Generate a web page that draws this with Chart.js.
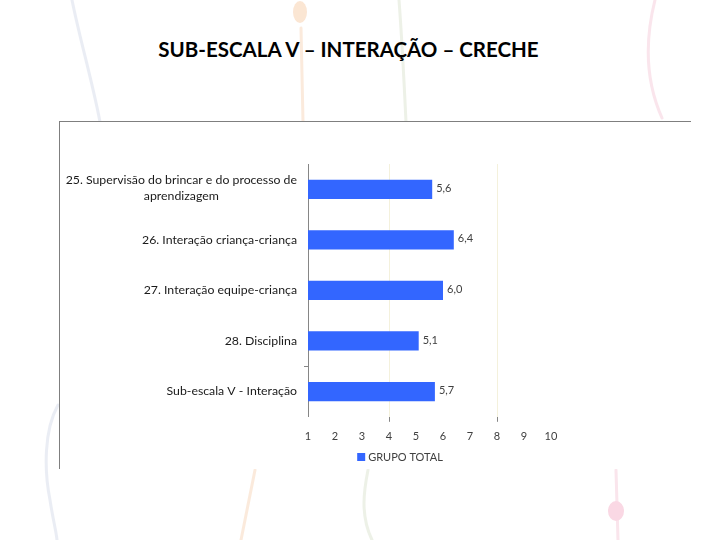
<!DOCTYPE html>
<html>
<head>
<meta charset="utf-8">
<script src="https://cdn.jsdelivr.net/npm/chart.js@4/dist/chart.umd.min.js"></script>
<style>
  body { margin: 0; width: 720px; height: 540px; background: #fff; position: relative; overflow: hidden; font-family: Lato, "Liberation Sans", sans-serif; }
  #deco { position: absolute; left: 0; top: 0; opacity: 0.8; }
  #title { position: absolute; left: 0; width: 697px; top: 37px; text-align: center; font: bold 20.5px Lato, "Liberation Sans", sans-serif; color: #000; }
  #box { position: absolute; left: 59px; top: 121px; width: 660px; height: 347px; background: #fff;
         border-top: 1px solid #7f7f7f; border-left: 1px solid #7f7f7f; }
  #box::after { content: ""; position: absolute; left: 631px; top: -1px; width: 40px; height: 2px; background: #fff; }
  #chartWrap { position: absolute; left: 0; top: 0; width: 631px; height: 347px; }
</style>
</head>
<body>
<svg id="deco" width="720" height="540">
  <g fill="none" stroke-width="3" stroke-linecap="round">
    <path d="M72 0 C80 40 92 80 100 122" stroke="#e6e9f2"/>
    <path d="M58 405 C44 430 44 470 50 500 C53 520 56 530 57 540" stroke="#e6e9f2"/>
    <path d="M301 28 L303 122" stroke="#fbe6d4"/>
    <path d="M255 470 L241 540" stroke="#fbe6d4"/>
    <path d="M399 0 C402 40 404 80 406 122" stroke="#e9eee2"/>
    <path d="M368 470 C364 490 360 515 372 540" stroke="#e9eee2"/>
    <path d="M655 0 C645 40 645 80 662 118" stroke="#f9dfe8"/>
    <path d="M616 470 L618 540" stroke="#f9dfe8"/>
  </g>
  <ellipse cx="300" cy="12" rx="7" ry="11" fill="#fbe0c9"/>
  <ellipse cx="616" cy="511" rx="8" ry="10" fill="#f9cfde"/>
</svg>
<div id="title">SUB-ESCALA V – INTERAÇÃO – CRECHE</div>
<div id="box"><div id="chartWrap"><canvas id="chart"></canvas></div></div>
<script>
// dados do gráfico
const categories = [
  ["25. Supervisão do brincar e do processo de", "aprendizagem"],
  "26. Interação criança-criança",
  "27. Interação equipe-criança",
  "28. Disciplina",
  "Sub-escala V - Interação"
];
const values = [5.6, 6.4, 6.0, 5.1, 5.7];
const seriesName = "GRUPO TOTAL";
const xMin = 1, xMax = 10;
const barColor = "#3366ff";
const fontFamily = "Lato, 'Liberation Sans', sans-serif";

// rótulos das categorias, valores e legenda desenhados à mão
const extraText = {
  id: "extraText",
  afterDraw(chart) {
    const ctx = chart.ctx;
    const y = chart.scales.y;
    const area = chart.chartArea;
    ctx.save();
    ctx.fillStyle = "#1a1a1a";
    ctx.font = "12.3px " + fontFamily;
    ctx.textBaseline = "middle";
    const right = area.left - 11;
    categories.forEach((cat, i) => {
      const cy = y.getPixelForTick(i);
      if (Array.isArray(cat)) {
        const w = ctx.measureText(cat[0]).width;
        const lh = 16;
        const top = cy - lh * (cat.length - 1) / 2 - 1;
        cat.forEach((line, j) => {
          ctx.textAlign = "center";
          ctx.fillText(line, right - w / 2, top + j * lh);
        });
      } else {
        ctx.textAlign = "right";
        ctx.fillText(cat, right, cy);
      }
    });

    // valores
    const meta = chart.getDatasetMeta(0);
    ctx.font = "11px " + fontFamily;
    ctx.fillStyle = "#404040";
    ctx.textAlign = "left";
    meta.data.forEach((bar, i) => {
      ctx.fillText(values[i].toFixed(1).replace(".", ","), bar.x + 4, bar.y - 1);
    });

    // legenda
    ctx.font = "11px " + fontFamily;
    const tw = ctx.measureText(seriesName).width;
    const total = 8 + 3 + tw;
    const lx = 340 - total / 2;
    const ly = 335;
    ctx.fillStyle = barColor;
    ctx.fillRect(lx, ly - 4, 8, 8);
    ctx.fillStyle = "#404040";
    ctx.fillText(seriesName, lx + 11, ly);
    ctx.restore();
  }
};

new Chart(document.getElementById("chart"), {
  type: "bar",
  data: {
    labels: categories,
    datasets: [{
      label: seriesName,
      data: values,
      backgroundColor: barColor,
      borderWidth: 0,
      barPercentage: 0.38,
      categoryPercentage: 1
    }]
  },
  options: {
    indexAxis: "y",
    responsive: true,
    maintainAspectRatio: false,
    animation: false,
    layout: { padding: { top: 42, right: 140, bottom: 18, left: 0 } },
    plugins: {
      legend: { display: false },
      tooltip: { enabled: false }
    },
    scales: {
      x: {
        min: xMin,
        max: xMax,
        ticks: {
          stepSize: 1,
          color: "#404040",
          font: { size: 11, family: fontFamily },
          padding: 8
        },
        grid: {
          color: c => (c.tick && (c.tick.value === 4 || c.tick.value === 8)) ? "#f4f1dc" : "rgba(0,0,0,0)",
          tickColor: c => (c.tick && (c.tick.value === 4 || c.tick.value === 8)) ? "#868686" : "rgba(0,0,0,0)",
          tickLength: 5
        },
        border: { display: false }
      },
      y: {
        ticks: { display: false },
        afterFit: s => { s.width = 248; },
        grid: {
          drawOnChartArea: false,
          tickLength: 4,
          tickColor: c => c.index === 4 ? "#868686" : "rgba(0,0,0,0)"
        },
        border: { display: true, color: "#868686" }
      }
    }
  },
  plugins: [extraText]
});
</script>
</body>
</html>
